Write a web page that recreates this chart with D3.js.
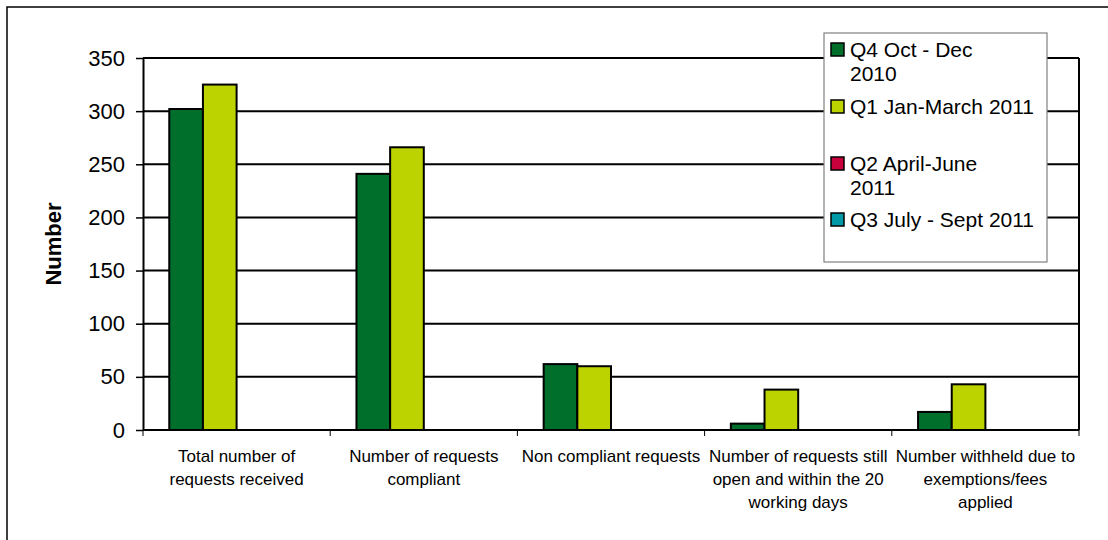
<!DOCTYPE html>
<html>
<head>
<meta charset="utf-8">
<script src="https://cdn.jsdelivr.net/npm/d3@7"></script>
<style>
  body { margin: 0; background: #fff; }
  text { font-family: "Liberation Sans", Arial, sans-serif; fill: #000; }
</style>
</head>
<body>
<div id="chart"></div>
<script>
const categories = [
  ["Total number of", "requests received"],
  ["Number of requests", "compliant"],
  ["Non compliant requests"],
  ["Number of requests still", "open and within the 20", "working days"],
  ["Number withheld due to", "exemptions/fees", "applied"]
];
const seriesNames = ["Q4 Oct - Dec 2010", "Q1 Jan-March 2011", "Q2 April-June 2011", "Q3 July - Sept 2011"];
const legendLines = [["Q4 Oct - Dec", "2010"], ["Q1 Jan-March 2011"], ["Q2 April-June", "2011"], ["Q3 July - Sept 2011"]];
const q4 = [302, 241, 62, 6, 17];
const q1 = [325, 266, 60, 38, 43];
const q2 = [null, null, null, null, null];
const q3 = [null, null, null, null, null];
const yTicks = [0, 50, 100, 150, 200, 250, 300, 350];
const colors = ["#006F2B", "#BDD300", "#C8003C", "#0099A8"];

const W = 1108, H = 540;
const plot = { left: 143, right: 1079, top: 58, bottom: 430 };

const svg = d3.select("#chart").append("svg")
  .attr("width", W).attr("height", H);

// outer chart frame
svg.append("rect")
  .attr("x", 7).attr("y", 7)
  .attr("width", 1110).attr("height", 560)
  .attr("fill", "none").attr("stroke", "#000").attr("stroke-width", 1.5);

const y = d3.scaleLinear().domain([0, 350]).range([plot.bottom, plot.top]);
const x0 = d3.scaleBand().domain(d3.range(categories.length))
  .range([plot.left, plot.right]).paddingInner(0).paddingOuter(0);
const x1 = d3.scaleBand().domain(d3.range(seriesNames.length))
  .range([0, x0.bandwidth()]).paddingInner(0).paddingOuter(0.78);

// gridlines
svg.append("g")
  .selectAll("line")
  .data(yTicks.filter(d => d > 0))
  .join("line")
  .attr("x1", plot.left).attr("x2", plot.right)
  .attr("y1", d => y(d)).attr("y2", d => y(d))
  .attr("stroke", "#000").attr("stroke-width", 2);

// right edge of plot
svg.append("line")
  .attr("x1", plot.right).attr("x2", plot.right)
  .attr("y1", plot.top).attr("y2", plot.bottom)
  .attr("stroke", "#000").attr("stroke-width", 2);

// bars
const allSeries = [q4, q1, q2, q3];
const barData = [];
allSeries.forEach((vals, s) => {
  vals.forEach((v, c) => { if (v != null) barData.push({ s, c, v }); });
});
svg.append("g")
  .selectAll("rect")
  .data(barData)
  .join("rect")
  .attr("x", d => x0(d.c) + x1(d.s))
  .attr("y", d => y(d.v))
  .attr("width", x1.bandwidth())
  .attr("height", d => y(0) - y(d.v))
  .attr("fill", d => colors[d.s])
  .attr("stroke", "#000").attr("stroke-width", 2);

// y axis
const yAxis = svg.append("g")
  .attr("transform", `translate(${plot.left},0)`)
  .call(d3.axisLeft(y).tickValues(yTicks).tickSize(7).tickPadding(11).tickSizeOuter(0));
yAxis.select(".domain").attr("stroke-width", 2);
yAxis.selectAll(".tick line").attr("stroke-width", 1.5);
yAxis.selectAll("text").style("font-size", "22px")
  .style("font-family", "'Liberation Sans', Arial, sans-serif");

// x axis
const xAxis = svg.append("g")
  .attr("transform", `translate(0,${plot.bottom})`);
xAxis.append("line")
  .attr("x1", plot.left).attr("x2", plot.right)
  .attr("stroke", "#000").attr("stroke-width", 2);
xAxis.selectAll(".xtick")
  .data(d3.range(categories.length + 1))
  .join("line")
  .attr("x1", i => plot.left + i * x0.bandwidth())
  .attr("x2", i => plot.left + i * x0.bandwidth())
  .attr("y1", 0).attr("y2", 6)
  .attr("stroke", "#000").attr("stroke-width", 1);

const xl = xAxis.selectAll(".xlabel")
  .data(categories)
  .join("text")
  .attr("text-anchor", "middle")
  .style("font-size", "17px")
  .attr("x", (d, i) => x0(i) + x0.bandwidth() / 2)
  .attr("y", 32);
xl.selectAll("tspan")
  .data(d => d)
  .join("tspan")
  .attr("x", function () { return d3.select(this.parentNode).attr("x"); })
  .attr("dy", (d, i) => i === 0 ? 0 : 23)
  .text(d => d);

// y title
svg.append("text")
  .attr("transform", "translate(61,244) rotate(-90)")
  .attr("text-anchor", "middle")
  .style("font-size", "22px").style("font-weight", "bold")
  .text("Number");

// legend
const legend = svg.append("g");
legend.append("rect")
  .attr("x", 824).attr("y", 33)
  .attr("width", 223).attr("height", 229)
  .attr("fill", "#fff").attr("stroke", "#808080").attr("stroke-width", 1.2);
const itemY = [50, 107, 164, 220];
const items = legend.selectAll(".item")
  .data(legendLines)
  .join("g")
  .attr("transform", (d, i) => `translate(0,${itemY[i]})`);
items.append("rect")
  .attr("x", 831).attr("y", -7)
  .attr("width", 13).attr("height", 13)
  .attr("fill", (d, i) => colors[i])
  .attr("stroke", "#000").attr("stroke-width", 1.5);
items.append("text")
  .attr("x", 850).attr("y", 7)
  .style("font-size", "21px")
  .selectAll("tspan")
  .data(d => d)
  .join("tspan")
  .attr("x", 850)
  .attr("dy", (d, i) => i === 0 ? 0 : 24)
  .text(d => d);
</script>
</body>
</html>
